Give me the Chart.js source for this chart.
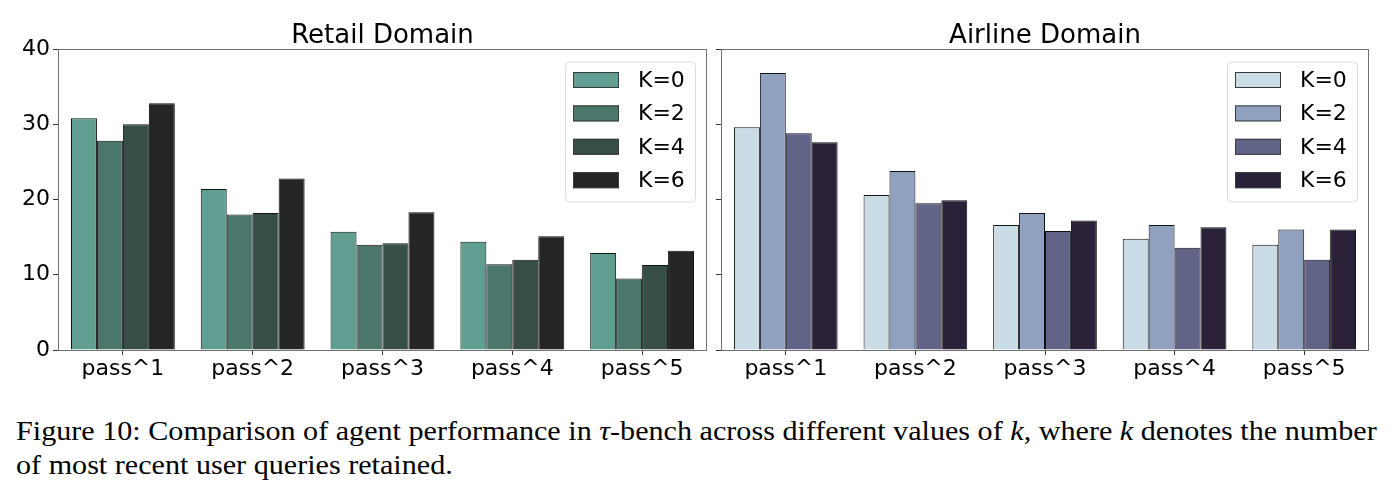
<!DOCTYPE html>
<html>
<head>
<meta charset="utf-8">
<script src="https://cdn.jsdelivr.net/npm/chart.js@4/dist/chart.umd.min.js"></script>
<style>
  body {
    margin: 0;
    width: 1393px;
    height: 499px;
    background: #ffffff;
    position: relative;
    overflow: hidden;
  }

  .panel {
    position: absolute;
    top: 0;
  }

  #caption {
    position: absolute;
    left: 16px;
    top: 414px;
    font-family: "Liberation Serif", "Times New Roman", serif;
    font-size: 27px;
    line-height: 34px;
    color: #000000;
    white-space: nowrap;
    transform: scaleX(1.116);
    transform-origin: left top;
  }
</style>
</head>
<body>
<div class="panel" style="left: 0px;">
  <canvas id="retailChart" width="712" height="385"></canvas>
</div>
<div class="panel" style="left: 712px;">
  <canvas id="airlineChart" width="681" height="385"></canvas>
</div>
<div id="caption">
  Figure 10: Comparison of agent performance in <i>τ</i>-bench across different values of <i>k</i>, where <i>k</i> denotes the number<br>
  of most recent user queries retained.
</div>

<script>
const categories = ["pass^1", "pass^2", "pass^3", "pass^4", "pass^5"];
const seriesLabels = ["K=0", "K=2", "K=4", "K=6"];
const yTicks = [0, 10, 20, 30, 40];

const retailK0 = [30.8, 21.4, 15.7, 14.4, 12.9];
const retailK2 = [27.8, 18.0, 14.0, 11.4, 9.5];
const retailK4 = [30.0, 18.2, 14.2, 12.0, 11.3];
const retailK6 = [32.8, 22.8, 18.3, 15.1, 13.2];

const airlineK0 = [29.6, 20.6, 16.6, 14.8, 14.0];
const airlineK2 = [36.8, 23.8, 18.2, 16.6, 16.0];
const airlineK4 = [28.8, 19.5, 15.8, 13.6, 12.0];
const airlineK6 = [27.6, 19.9, 17.2, 16.3, 16.0];

const retailColors = ["#5f9e91", "#4a766c", "#374e48", "#232625"];
const airlineColors = ["#cadce6", "#8fa1bf", "#616387", "#2b2239"];

const FONT = "DejaVu Sans";

// frame, title and legend are drawn by hand so they sit like the matplotlib original
const panelDecor = {
  id: "panelDecor",
  afterDraw(chart, args, options) {
    const { ctx, chartArea } = chart;

    ctx.save();
    ctx.strokeStyle = "#6f6f6f";
    ctx.lineWidth = 1;
    ctx.strokeRect(
      chartArea.left + 0.5,
      chartArea.top + 0.5,
      chartArea.right - chartArea.left - 1,
      chartArea.bottom - chartArea.top
    );

    ctx.fillStyle = "#000000";
    ctx.font = `26px "${FONT}"`;
    ctx.textAlign = "center";
    ctx.textBaseline = "alphabetic";
    ctx.fillText(options.title, (chartArea.left + chartArea.right) / 2, 43);

    const boxWidth = 130;
    const boxHeight = 140;
    const boxX = chartArea.right - 12 - boxWidth;
    const boxY = chartArea.top + 12.5;

    ctx.beginPath();
    ctx.roundRect(boxX + 0.5, boxY + 0.5, boxWidth, boxHeight, 4);
    ctx.fillStyle = "rgba(255, 255, 255, 0.8)";
    ctx.fill();
    ctx.strokeStyle = "#dddddd";
    ctx.stroke();

    ctx.font = `22px "${FONT}"`;
    ctx.textAlign = "left";
    ctx.textBaseline = "middle";

    chart.data.datasets.forEach((dataset, index) => {
      const rowY = boxY + 18.5 + index * 33.4;

      ctx.fillStyle = dataset.backgroundColor;
      ctx.fillRect(boxX + 8, rowY - 8, 46, 16);
      ctx.strokeStyle = "#3a3a3a";
      ctx.strokeRect(boxX + 8.5, rowY - 7.5, 45, 15);

      ctx.fillStyle = "#000000";
      ctx.fillText(dataset.label, boxX + 73, rowY + 1);
    });

    ctx.restore();
  }
};

function buildDatasets(seriesValues, colors) {
  return seriesValues.map((values, index) => ({
    label: seriesLabels[index],
    data: values,
    backgroundColor: colors[index],
    borderColor: "#111111",
    borderWidth: 1,
    categoryPercentage: 0.8,
    barPercentage: 1.0
  }));
}

function createPanel(canvasId, title, seriesValues, colors, axisWidth, rightPadding, showYLabels) {
  return new Chart(document.getElementById(canvasId), {
    type: "bar",
    data: {
      labels: categories,
      datasets: buildDatasets(seriesValues, colors)
    },
    options: {
      responsive: false,
      animation: false,
      devicePixelRatio: 1,
      layout: {
        padding: {
          top: 49,
          right: rightPadding,
          left: 0,
          bottom: 0
        }
      },
      plugins: {
        legend: { display: false },
        tooltip: { enabled: false },
        panelDecor: { title }
      },
      scales: {
        x: {
          offset: true,
          grid: {
            offset: false,
            drawOnChartArea: false,
            drawTicks: true,
            tickLength: 5,
            color: "#333333"
          },
          border: { display: false },
          ticks: {
            color: "#000000",
            padding: 1,
            font: { family: FONT, size: 22 }
          },
          afterFit(scale) {
            scale.height = 35;
          }
        },
        y: {
          min: 0,
          max: 40,
          afterBuildTicks(scale) {
            scale.ticks = yTicks.map((value) => ({ value }));
          },
          grid: {
            drawOnChartArea: false,
            drawTicks: true,
            tickLength: 5,
            color: "#333333"
          },
          border: { display: false },
          ticks: {
            display: showYLabels,
            color: "#000000",
            padding: 3,
            font: { family: FONT, size: 22 }
          },
          afterFit(scale) {
            scale.width = axisWidth;
          }
        }
      }
    },
    plugins: [panelDecor]
  });
}

createPanel(
  "retailChart",
  "Retail Domain",
  [retailK0, retailK2, retailK4, retailK6],
  retailColors,
  58,
  5,
  true
);

createPanel(
  "airlineChart",
  "Airline Domain",
  [airlineK0, airlineK2, airlineK4, airlineK6],
  airlineColors,
  9,
  24,
  false
);
</script>
</body>
</html>
